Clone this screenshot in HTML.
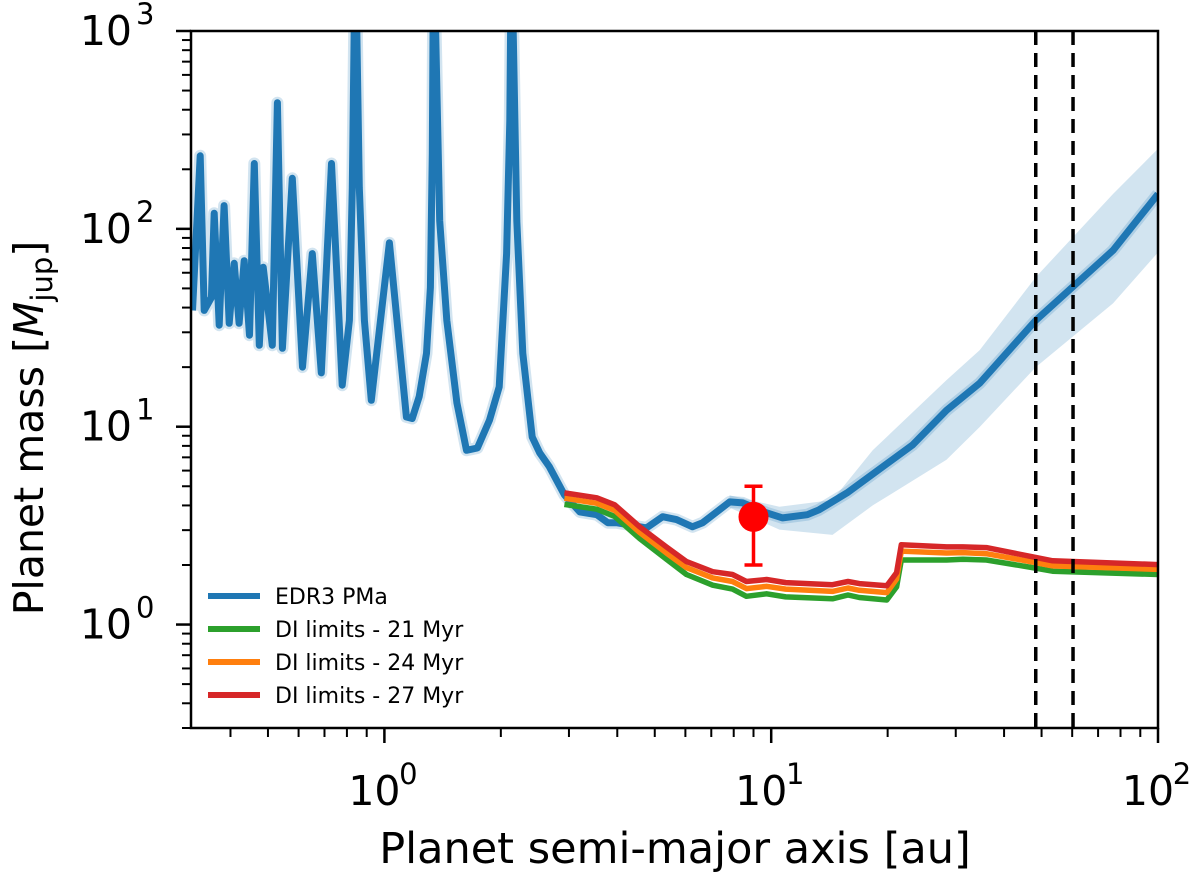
<!DOCTYPE html>
<html><head><meta charset="utf-8"><style>
html,body{margin:0;padding:0;background:#fff;}
svg{display:block;font-family:"DejaVu Sans","Liberation Sans",sans-serif;}
</style></head><body>
<svg id="chart" width="1200" height="878" viewBox="0 0 1200 878" xmlns="http://www.w3.org/2000/svg">
<defs><clipPath id="plotclip"><rect x="191" y="31" width="967" height="697"/></clipPath></defs>
<g id="band" clip-path="url(#plotclip)"></g>
<g id="series" clip-path="url(#plotclip)"></g>
<g id="axes"></g>
<text x="675" y="863" font-size="43" text-anchor="middle" fill="#000">Planet semi-major axis [au]</text>
<text transform="translate(43,428) rotate(-90)" font-size="41" text-anchor="middle" fill="#000">Planet mass [<tspan font-style="italic">M</tspan><tspan font-size="29" dy="9">jup</tspan><tspan dy="-9">]</tspan></text>
<g id="legend"></g>
</svg>
<script>
const xTicks = [1, 10, 100];
const xTickExp = ["0", "1", "2"];
const yTicks = [1, 10, 100, 1000];
const yTickExp = ["0", "1", "2", "3"];
const pmaA = [0.319,0.334,0.342,0.357,0.363,0.374,0.385,0.397,0.409,0.421,0.434,0.448,0.461,0.475,0.486,0.513,0.529,0.545,0.578,0.614,0.651,0.687,0.730,0.778,0.812,0.826,0.841,0.861,0.888,0.925,1.03,1.14,1.18,1.23,1.285,1.315,1.33,1.34,1.39,1.45,1.54,1.63,1.74,1.87,1.98,2.07,2.11,2.13,2.20,2.28,2.41,2.52,2.67,2.92,3.20,3.54,3.78,3.98,4.76,5.24,5.69,6.26,6.65,7.81,8.44,9.73,10.7,12.4,13.3,15.7,23.2,28.4,34.6,48.3,76.5,100];
const pmaM = [38.7,234,38.7,45,120,32.6,131,33.3,67,33.3,69,29,214,25.8,64,25.8,434,24.9,180,20,75,18.7,214,16.2,34.5,162,3000,162,34.5,13.6,85,11.2,11.0,14.2,23.5,50.6,240,3000,110,34.5,13.2,7.6,7.8,10.8,15.9,75,352,3000,110,23.5,8.87,7.37,6.27,4.52,3.71,3.59,3.27,3.27,3.08,3.51,3.39,3.12,3.27,4.17,4.12,3.67,3.46,3.59,3.80,4.63,8.09,12.1,16.6,34.5,77.8,150];
const bandA = [7.8,10.5,14.4,18.3,28.4,34.6,48.3,76.5,100];
const bandLo = [3.9,3.02,2.84,4.0,6.8,9.96,20,42,76];
const bandHi = [4.5,3.94,4.26,7.6,17.2,24.4,57,150,254];
const diA = [2.92,3.54,3.94,4.57,5.36,6.04,7.06,7.94,8.63,9.73,10.9,14.4,15.8,16.9,19.9,21.1,21.7,28.4,31.3,36.0,47.4,53.4,100];
const di27 = [4.63,4.37,4.03,3.12,2.47,2.08,1.85,1.79,1.65,1.69,1.63,1.59,1.65,1.61,1.57,1.83,2.53,2.47,2.47,2.45,2.20,2.10,2.01];
const di24 = [4.35,4.10,3.78,2.92,2.30,1.94,1.72,1.65,1.52,1.56,1.51,1.47,1.53,1.49,1.45,1.70,2.35,2.30,2.31,2.28,2.07,1.98,1.90];
const di21 = [4.05,3.83,3.52,2.72,2.14,1.79,1.58,1.51,1.39,1.43,1.38,1.35,1.41,1.37,1.33,1.55,2.12,2.12,2.14,2.12,1.94,1.86,1.79];
const detA = [9.0];
const detM = [3.5];
const detLo = [2.0];
const detHi = [5.0];
const vLines = [48.3, 60.3];
const legendLabels = ["EDR3 PMa","DI limits - 21 Myr","DI limits - 24 Myr","DI limits - 27 Myr"];
const legendColors = ["#1f77b4","#2ca02c","#ff7f0e","#d62728"];

const NS = "http://www.w3.org/2000/svg";
const X0 = 191, X1 = 1158, Y0 = 728, Y1 = 31;
const xMinL = -0.5, xMaxL = 2, yMinL = Math.log10(0.3), yMaxL = 3;
function sx(a){ return X0 + (Math.log10(a) - xMinL) / (xMaxL - xMinL) * (X1 - X0); }
function sy(m){ return Y0 - (Math.log10(m) - yMinL) / (yMaxL - yMinL) * (Y0 - Y1); }
function mk(tag, attrs, parent){ const e = document.createElementNS(NS, tag); for (const k in attrs) e.setAttribute(k, attrs[k]); parent.appendChild(e); return e; }
function pathOf(xs, ys){ return xs.map((a,i)=> (i?'L':'M') + sx(a).toFixed(1) + ',' + sy(ys[i]).toFixed(1)).join(' '); }

const bandG = document.getElementById('band');
let bd = pathOf(bandA, bandHi);
for (let i = bandA.length - 1; i >= 0; i--) bd += ' L' + sx(bandA[i]).toFixed(1) + ',' + sy(bandLo[i]).toFixed(1);
const bandP = mk('path', {d: bd + ' Z', fill: '#1f77b4', 'fill-opacity': 0.2, stroke: 'none'}, bandG);



const sG = document.getElementById('series');
const halo = mk('path', {d: pathOf(pmaA, pmaM), fill: 'none', stroke: '#1f77b4', 'stroke-opacity': 0.2, 'stroke-width': 12, 'stroke-linejoin': 'round'}, sG);


const pma = mk('path', {d: pathOf(pmaA, pmaM), fill: 'none', stroke: '#1f77b4', 'stroke-width': 7, 'stroke-linejoin': 'round'}, sG);


const g21 = mk('path', {d: pathOf(diA, di21), fill: 'none', stroke: '#2ca02c', 'stroke-width': 5.5, 'stroke-linejoin': 'round'}, sG);


const g24 = mk('path', {d: pathOf(diA, di24), fill: 'none', stroke: '#ff7f0e', 'stroke-width': 5.5, 'stroke-linejoin': 'round'}, sG);


const g27 = mk('path', {d: pathOf(diA, di27), fill: 'none', stroke: '#d62728', 'stroke-width': 5.5, 'stroke-linejoin': 'round'}, sG);



vLines.forEach((v) => {
  const l = mk('line', {x1: sx(v), x2: sx(v), y1: Y1, y2: Y0, stroke: '#000', 'stroke-width': 3.5, 'stroke-dasharray': '14,8'}, sG);
  
  
});

detA.forEach((a, i) => {
  const cx = sx(a);
  const eb = mk('line', {x1: cx, x2: cx, y1: sy(detHi[i]), y2: sy(detLo[i]), stroke: '#ff0000', 'stroke-width': 3.5}, sG);
  
  
  [detHi[i], detLo[i]].forEach((v) => {
    const c = mk('line', {x1: cx - 9, x2: cx + 9, y1: sy(v), y2: sy(v), stroke: '#ff0000', 'stroke-width': 3.5}, sG);
    
    
  });
  const pt = mk('circle', {cx: cx, cy: sy(detM[i]), r: 15, fill: '#ff0000'}, sG);
  
  
});

const ax = document.getElementById('axes');
const frame = mk('rect', {x: X0, y: Y1, width: X1 - X0, height: Y0 - Y1, fill: 'none', stroke: '#000', 'stroke-width': 2.5}, ax);


xTicks.forEach((t, i) => {
  const x = sx(t);
  const tk = mk('line', {x1: x, x2: x, y1: Y0, y2: Y0 + 15, stroke: '#000', 'stroke-width': 2.5}, ax);
  
  
  const tx = mk('text', {x: x - 10, y: 805, 'font-size': 41, 'text-anchor': 'middle', fill: '#000'}, ax);
  
  
  tx.textContent = '10';
  const sp = mk('tspan', {x: x + 24, y: 784, 'font-size': 29, 'text-anchor': 'middle'}, tx);
  sp.textContent = xTickExp[i];
});
for (let d = -1; d < 2; d++) for (let k = 2; k < 10; k++) {
  const v = k * Math.pow(10, d);
  if (Math.log10(v) < xMinL) continue;
  const tk = mk('line', {x1: sx(v), x2: sx(v), y1: Y0, y2: Y0 + 9, stroke: '#000', 'stroke-width': 2}, ax);
  
  
}
yTicks.forEach((t, i) => {
  const y = sy(t);
  const tk = mk('line', {x1: X0 - 15, x2: X0, y1: y, y2: y, stroke: '#000', 'stroke-width': 2.5}, ax);
  
  
  const tx = mk('text', {x: 132, y: y + 14, 'font-size': 41, 'text-anchor': 'end', fill: '#000'}, ax);
  
  
  tx.textContent = '10';
  const sp = mk('tspan', {x: 136, y: y - 7, 'font-size': 29, 'text-anchor': 'start'}, tx);
  sp.textContent = yTickExp[i];
});
for (let d = -1; d < 3; d++) for (let k = 2; k < 10; k++) {
  const v = k * Math.pow(10, d);
  if (Math.log10(v) < yMinL - 1e-9) continue;
  const tk = mk('line', {x1: X0 - 9, x2: X0, y1: sy(v), y2: sy(v), stroke: '#000', 'stroke-width': 2}, ax);
  
  
}

const lg = document.getElementById('legend');
legendLabels.forEach((lab, i) => {
  const y = 596 + i * 33;
  const ln = mk('line', {x1: 208, x2: 260, y1: y, y2: y, stroke: legendColors[i], 'stroke-width': 6}, lg);
  
  
  const tx = mk('text', {x: 275, y: y + 8, 'font-size': 22, fill: '#000'}, lg);
  
  
  tx.textContent = lab;
});
</script>
</body></html>
